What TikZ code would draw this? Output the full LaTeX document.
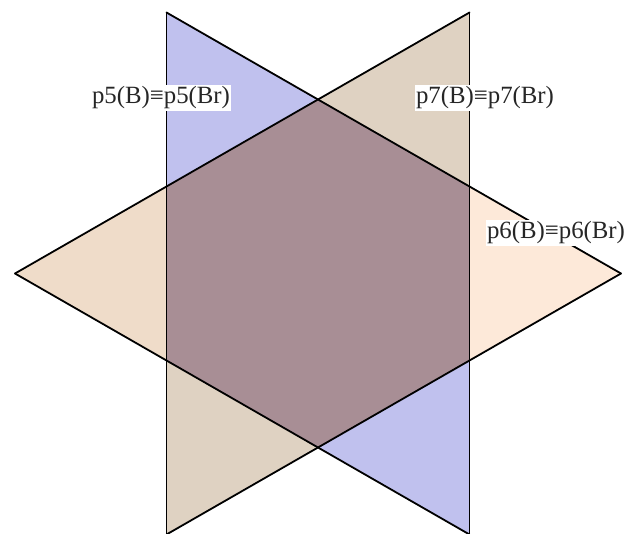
\documentclass[tikz,border=0pt]{standalone}
\usepackage{fontspec}
\setmainfont{Liberation Serif}
\definecolor{bluef}{HTML}{C0C1EE}
\definecolor{tanf}{HTML}{DFD2C2}
\definecolor{peachl}{HTML}{EFDCC9}
\definecolor{peachr}{HTML}{FDE9D9}
\definecolor{midf}{HTML}{A88E95}
\tikzset{
  edge/.style={draw=black, line width=1.8pt, line cap=round, line join=round},
  lbl/.style={fill=white, inner sep=1.5pt, text=black!85, font=\fontsize{24.8}{28}\selectfont}
}
\begin{document}
\begin{tikzpicture}[x=1pt,y=-1pt]
\useasboundingbox (0,0) rectangle (633,534);
\coordinate (A) at (166.5,12.5);
\coordinate (B) at (469.5,12.5);
\coordinate (C) at (166.5,534.5);
\coordinate (D) at (469.5,534.5);
\coordinate (L) at (15,273.5);
\coordinate (R) at (621,273.5);
\coordinate (T) at (318,99.5);
\coordinate (U) at (318,447.5);
\coordinate (P1) at (166.5,186.5);
\coordinate (P2) at (469.5,186.5);
\coordinate (P3) at (469.5,360.5);
\coordinate (P4) at (166.5,360.5);
% fills
\fill[bluef] (A) -- (T) -- (P1) -- cycle;
\fill[bluef] (D) -- (U) -- (P3) -- cycle;
\fill[tanf] (B) -- (T) -- (P2) -- cycle;
\fill[tanf] (C) -- (U) -- (P4) -- cycle;
\fill[peachl] (L) -- (P1) -- (P4) -- cycle;
\fill[peachr] (R) -- (P2) -- (P3) -- cycle;
\fill[midf] (T) -- (P2) -- (P3) -- (U) -- (P4) -- (P1) -- cycle;
% edges
\draw[edge] (A) -- (C);
\draw[edge] (B) -- (D);
\draw[edge] (A) -- (R);
\draw[edge] (B) -- (L);
\draw[edge] (L) -- (D);
\draw[edge] (R) -- (C);
% labels
\node[lbl] (l5) at (161,98) {p5(B)≡p5(Br)};
\node[lbl] (l7) at (485,98) {p7(B)≡p7(Br)};
\node[lbl] (l6) at (556,233) {p6(B)≡p6(Br)};
\end{tikzpicture}
\end{document}
